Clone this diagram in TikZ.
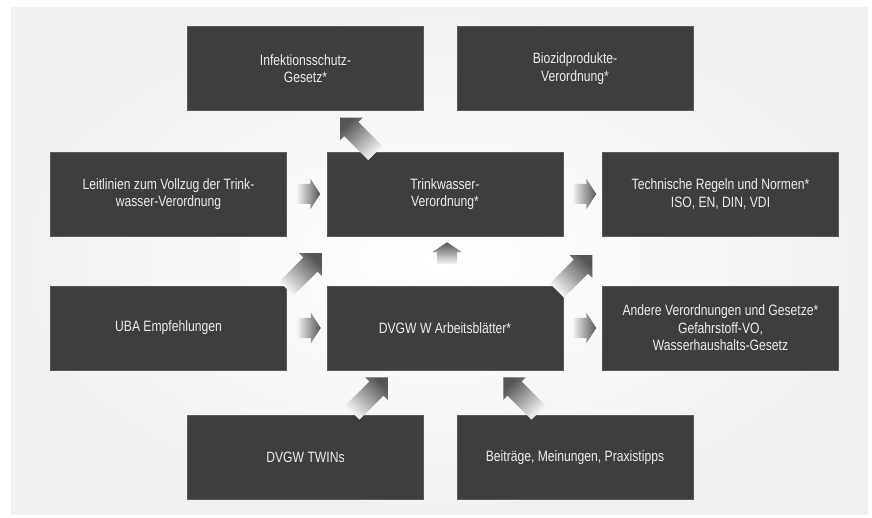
\documentclass[tikz,border=0pt]{standalone}
\usepackage{fontspec}
\setmainfont{Liberation Sans}[FakeStretch=0.81]
\usetikzlibrary{calc}
\definecolor{boxgray}{HTML}{3E3E3E}
\definecolor{boxedge}{HTML}{5A5A5A}
\definecolor{txtgray}{HTML}{ECECEC}
\definecolor{arrdark}{HTML}{555555}
\definecolor{arrlight}{HTML}{F8F8F8}
\definecolor{bggray}{HTML}{F1F1F1}
\tikzset{
  box/.style={rectangle, fill=boxgray, draw=boxedge, line width=0.5pt,
    minimum width=236pt, minimum height=84pt, inner sep=0pt,
    text=txtgray, align=center, font=\fontsize{15}{17.5}\selectfont},
}
% #1 tip point, #2 direction, #3 shading angle, #4 length, #5 head length, #6 head half width
\newcommand{\blockarr}[6]{%
  \begin{scope}[shift={#1}, rotate=#2]
    \shade[top color=arrdark, bottom color=arrlight, shading angle=#3]
      (0,0) -- (-#5,#6) -- (-#5,10) -- (-#4,10) -- (-#4,-10) -- (-#5,-10) -- (-#5,-#6) -- cycle;
  \end{scope}}
\begin{document}
\begin{tikzpicture}[x=1pt, y=-1pt]
\useasboundingbox (0,0) rectangle (872,518);
\fill[white] (0,0) rectangle (872,518);
\shade[inner color=white, outer color=bggray] (11,8) rectangle (868,514);

\node[box] (inf)    at (305.5,68.5) {Infektionsschutz-\\Gesetz*};
\node[box] (bio)    at (575,68.5)   {Biozidprodukte-\\Verordnung*};
\node[box] (leit)   at (168.5,194)  {Leitlinien zum Vollzug der Trink-\\wasser-Verordnung};
\node[box] (trink)  at (445,194)    {Trinkwasser-\\Verordnung*};
\node[box] (tech)   at (720.5,194)  {Technische Regeln und Normen*\\ISO, EN, DIN, VDI};
\node[box] (uba)    at (168.5,328)  {UBA Empfehlungen};
\node[box] (dvgw)   at (445,328)    {DVGW W Arbeitsblätter*};
\node[box] (andere) at (720.5,328)  {Andere Verordnungen und Gesetze*\\Gefahrstoff-VO,\\Wasserhaushalts-Gesetz};
\node[box] (twins)  at (305.5,457.5){DVGW TWINs};
\node[box] (beit)   at (575,457.5)  {Beiträge, Meinungen, Praxistipps};

% straight arrows
\blockarr{($(leit.east)+(33.5,0)$)}{0}{-90}{24}{10}{15.5}
\blockarr{($(trink.east)+(33,0)$)}{0}{-90}{24}{10}{15.5}
\blockarr{($(uba.east)+(34,0)$)}{0}{-90}{24}{10}{15.5}
\blockarr{($(dvgw.east)+(33,0)$)}{0}{-90}{24}{10}{15.5}
\blockarr{($(trink.south)+(2,6)$)}{90}{0}{22}{10}{15}
% diagonal arrows
\blockarr{($(inf.south)+(34.5,7)$)}{135}{45}{50}{16}{16}
\blockarr{($(trink.south west)+(-5,17)$)}{45}{-45}{50}{16}{16}
\blockarr{($(tech.south west)+(-10,19)$)}{45}{-45}{50}{16}{16}
\blockarr{($(dvgw.south west)+(61,7)$)}{45}{-45}{50}{16}{16}
\blockarr{($(dvgw.south east)+(-60,7)$)}{135}{45}{50}{16}{16}
\end{tikzpicture}
\end{document}
